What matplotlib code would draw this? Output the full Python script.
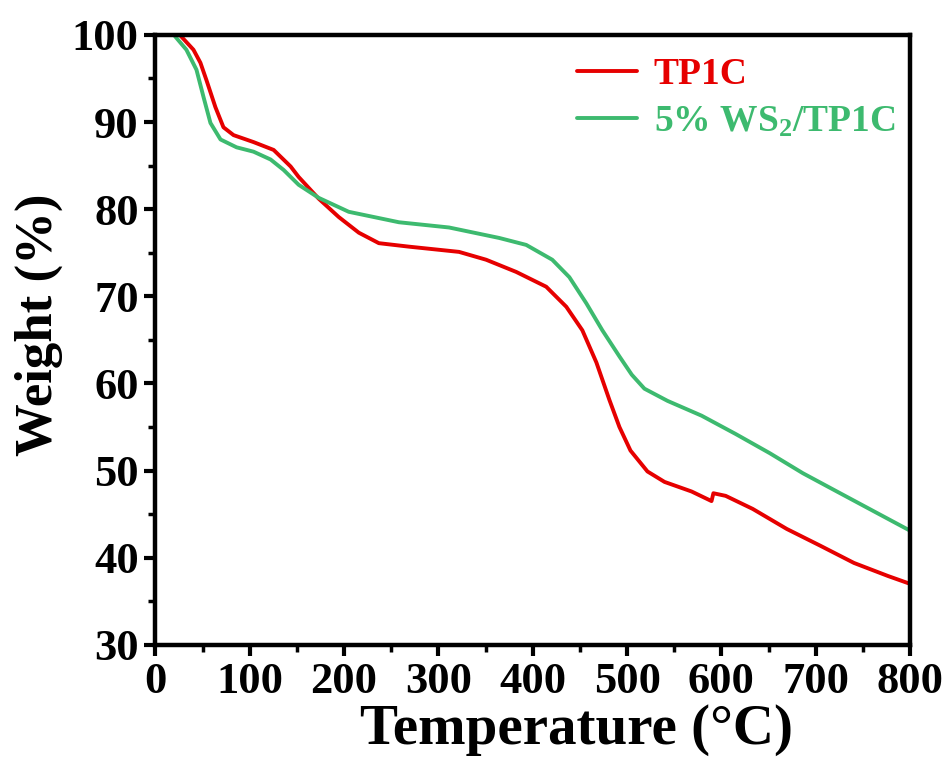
import matplotlib
matplotlib.use("Agg")
import matplotlib.pyplot as plt
from matplotlib.ticker import MultipleLocator

plt.rcParams['font.family'] = ['Liberation Serif', 'DejaVu Serif']
plt.rcParams['font.weight'] = 'bold'
plt.rcParams['mathtext.fontset'] = 'custom'
plt.rcParams['mathtext.rm'] = 'Liberation Serif:bold'
plt.rcParams['mathtext.it'] = 'Liberation Serif:bold'
plt.rcParams['mathtext.bf'] = 'Liberation Serif:bold'

# TP1C
t_tp1c = [25, 27.6, 40.4, 47.8, 54.2, 63.7, 72.2, 82.9, 104.1, 125.4, 143.4, 151.9, 173.2,
          194.4, 215.7, 236.9, 268.8, 321.9, 350.6, 382.5, 414.3, 435.6, 452.6, 467.5,
          481.3, 491.9, 503.6, 521.6, 539.7, 568.4, 589.5, 591.5, 604.5, 633.2, 669.3,
          704.4, 740.5, 776.6, 800]
w_tp1c = [100.1, 99.8, 98.3, 96.8, 94.8, 91.7, 89.4, 88.5, 87.7, 86.8, 84.9, 83.7, 81.2,
          79.1, 77.3, 76.1, 75.7, 75.1, 74.2, 72.8, 71.1, 68.8, 66.1, 62.4,
          58.1, 55.0, 52.3, 49.9, 48.7, 47.6, 46.5, 47.4, 47.1, 45.6, 43.3,
          41.4, 39.4, 37.9, 37.0]

# 5% WS2/TP1C
t_ws2 = [18, 21.2, 32.9, 43.6, 51.0, 58.4, 69.1, 86.1, 104.1, 122.2, 136.0, 151.9, 173.2,
         205.0, 258.2, 311.3, 364.4, 393.1, 420.7, 438.8, 456.8, 473.8, 491.9, 505.0,
         518.4, 542.9, 579.0, 615.1, 651.2, 686.3, 722.4, 758.6, 800]
w_ws2 = [100.3, 99.8, 98.3, 96.0, 92.9, 89.9, 88.0, 87.1, 86.6, 85.7, 84.5, 82.8, 81.3,
         79.7, 78.5, 77.9, 76.7, 75.9, 74.2, 72.2, 69.2, 66.1, 63.1, 61.0,
         59.4, 58.0, 56.3, 54.2, 52.0, 49.7, 47.6, 45.5, 43.1]

labels = ['TP1C', '5% WS$_2$/TP1C']
colors = ['#e60000', '#3dba6f']

fig = plt.figure(figsize=(9.53, 7.76), dpi=100)
ax = fig.add_axes([0.163, 0.169, 0.792, 0.786])
ax.plot(t_tp1c, w_tp1c, color=colors[0], lw=2.8, label=labels[0],
        solid_joinstyle='round', solid_capstyle='round')
ax.plot(t_ws2, w_ws2, color=colors[1], lw=2.8, label=labels[1],
        solid_joinstyle='round', solid_capstyle='round')

ax.set_xlim(0, 800)
ax.set_ylim(30, 100)
ax.xaxis.set_major_locator(MultipleLocator(100))
ax.xaxis.set_minor_locator(MultipleLocator(50))
ax.yaxis.set_major_locator(MultipleLocator(10))
ax.yaxis.set_minor_locator(MultipleLocator(5))
for s in ax.spines.values():
    s.set_linewidth(3.2)
ax.tick_params(which='major', direction='out', length=8, width=3, labelsize=32, pad=4)
ax.tick_params(which='minor', direction='out', length=5, width=2.5)
ax.tick_params(top=False, right=False, which='both')
for lab in ax.get_xticklabels() + ax.get_yticklabels():
    lab.set_fontweight('bold')

ax.set_xlabel('Temperature (°C)', fontsize=41, fontweight='bold', labelpad=2, x=0.558)
ax.set_ylabel('Weight (%)', fontsize=38, fontweight='bold', labelpad=6, y=0.525)

leg = ax.legend(loc='upper right', bbox_to_anchor=(1.0, 0.988), frameon=False,
                handlelength=1.6, handletextpad=0.45, labelspacing=0.33,
                labelcolor='linecolor', borderaxespad=0.0,
                prop={'weight': 'bold', 'size': 27})

fig.savefig('out.png', dpi=100)
